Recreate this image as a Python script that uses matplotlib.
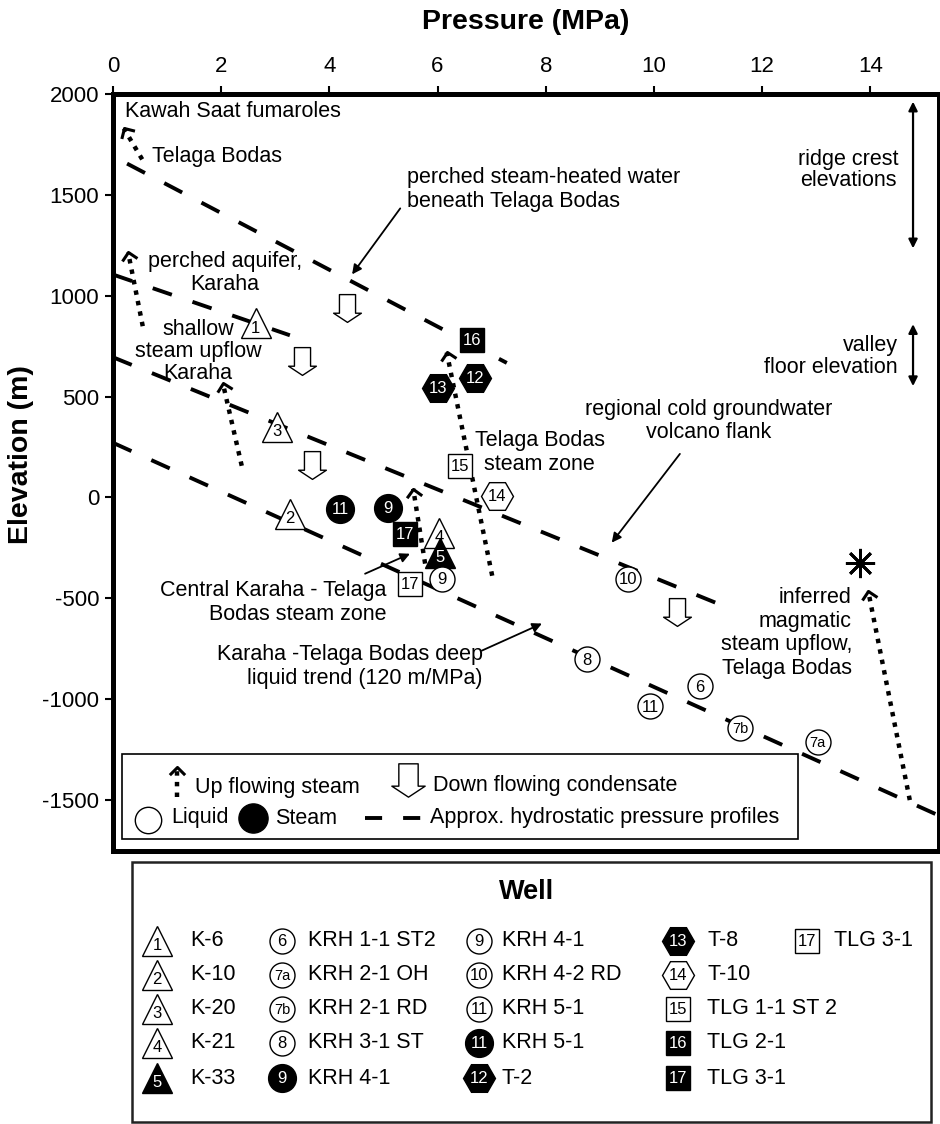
import numpy as np
import matplotlib
matplotlib.use('Agg')
import matplotlib.pyplot as plt
from matplotlib.path import Path
from matplotlib.markers import MarkerStyle
from matplotlib.patches import Rectangle

plt.rcParams['font.family'] = ['Liberation Sans', 'DejaVu Sans']
plt.rcParams['axes.unicode_minus'] = False

# approx. hydrostatic pressure profiles (MPa, m)
hydro_p = [[0.26, 7.28], [0.0, 3.27], [0.0, 11.50], [0.0, 15.27]]
hydro_e = [[1655, 667], [1105, 804], [695, -561], [271, -1577]]

# up flowing steam (bottom of dotted path -> apex)
up_bot_p = [0.54, 0.55, 2.38, 7.01, 5.77, 14.73]
up_bot_e = [1676, 849, 157, -388, -328, -1500]
up_top_p = [0.20, 0.28, 2.03, 6.17, 5.55, 13.96]
up_top_e = [1829, 1215, 567, 719, 43, -462]

# down flowing condensate
down_p = [4.33, 3.49, 3.68, 10.43]
down_e = [938, 676, 161, -566]

# wells plotted
well_code = ['1', '3', '2', '11', '9', '17', '4', '5', '17', '9', '15', '14', '16', '12', '13',
             '10', '8', '6', '11', '7b', '7a']
well_shape = ['^', '^', '^', 'o', 'o', 's', '^', '^', 's', 'o', 's', 'H', 's', 'H', 'H',
              'o', 'o', 'o', 'o', 'o', 'o']
well_fill = [0, 0, 0, 1, 1, 1, 0, 1, 0, 0, 0, 0, 1, 1, 1, 0, 0, 0, 0, 0, 0]
well_p = [2.64, 3.03, 3.27, 4.20, 5.08, 5.40, 6.03, 6.04, 5.49, 6.08, 6.41, 7.10, 6.64, 6.69, 6.01,
          9.52, 8.76, 10.85, 9.93, 11.59, 13.03]
well_e = [864, 350, -81, -56, -51, -180, -175, -274, -427, -402, 157, 8, 780, 592, 543,
          -402, -803, -937, -1036, -1145, -1214]

star_p, star_e = 13.81, -324

# well legend
leg_code = ['1', '2', '3', '4', '5', '6', '7a', '7b', '8', '9', '9', '10', '11', '11', '12',
            '13', '14', '15', '16', '17', '17']
leg_name = ['K-6', 'K-10', 'K-20', 'K-21', 'K-33', 'KRH 1-1 ST2', 'KRH 2-1 OH', 'KRH 2-1 RD',
            'KRH 3-1 ST', 'KRH 4-1', 'KRH 4-1', 'KRH 4-2 RD', 'KRH 5-1', 'KRH 5-1', 'T-2',
            'T-8', 'T-10', 'TLG 1-1 ST 2', 'TLG 2-1', 'TLG 3-1', 'TLG 3-1']
leg_shape = ['^'] * 5 + ['o'] * 5 + ['o'] * 4 + ['H'] + ['H', 'H', 's', 's', 's'] + ['s']
leg_fill = [0, 0, 0, 0, 1, 0, 0, 0, 0, 1, 0, 0, 0, 1, 1, 1, 0, 0, 1, 1, 0]

chevron = Path([(-1, -1), (0, 0), (1, -1)])
down_arrow = Path([(-0.29, 0.5), (0.29, 0.5), (0.29, -0.17), (0.5, -0.17), (0, -0.5),
                   (-0.5, -0.17), (-0.29, -0.17), (-0.29, 0.5)], closed=True)


def draw_well(a, x, y, code, shape, filled):
    size = {'^': 21, 'o': 18, 's': 17, 'H': 23}[shape]
    if shape == 'o' and filled:
        size = 20
    a.plot(x, y, marker=shape, ms=size, mfc='black' if filled else 'white', mec='black',
           mew=1.0, ls='none', zorder=5, clip_on=False)
    dy = -3.5 if shape == '^' else -0.5
    fs = 10.5 if len(code) > 1 and code[-1] in 'ab' else 12
    a.annotate(code, (x, y), xytext=(0, dy), textcoords='offset points', ha='center',
               va='center', fontsize=fs, color='white' if filled else 'black', zorder=6)


fig = plt.figure(figsize=(9.4, 11.24), dpi=100)
ax = fig.add_axes([113 / 940, 1 - 850.5 / 1124, 826 / 940, 756.5 / 1124])
ax.set_xlim(0, 15.27)
ax.set_ylim(-1750, 2000)

for p, e in zip(hydro_p, hydro_e):
    ax.plot(p, e, color='black', lw=2.8, dashes=(5.2, 5.6), zorder=2)

for bp, be, tp, te in zip(up_bot_p, up_bot_e, up_top_p, up_top_e):
    ax.plot([bp, tp], [be, te], color='black', lw=3.2, dashes=(1, 1.4), zorder=3)
    d0 = ax.transData.transform((bp, be))
    d1 = ax.transData.transform((tp, te))
    ang = np.degrees(np.arctan2(-(d1[0] - d0[0]), d1[1] - d0[1]))
    ax.plot(tp, te, marker=MarkerStyle(chevron).rotated(deg=ang), ms=11, mew=2.2,
            mfc='none', mec='black', ls='none', zorder=3)

ax.plot(down_p, down_e, marker=down_arrow, ms=20, mfc='white', mec='black', mew=1.0,
        ls='none', zorder=4)

for x, y, c, s, f in zip(well_p, well_e, well_code, well_shape, well_fill):
    draw_well(ax, x, y, c, s, f)

ax.plot(star_p, star_e, marker=(8, 2, 0), ms=21, mew=2, color='black', ls='none')

fs = 15.5
ax.text(0.22, 1913, 'Kawah Saat fumaroles', fontsize=fs, ha='left', va='center')
ax.text(0.72, 1691, 'Telaga Bodas', fontsize=fs, ha='left', va='center')
ax.text(5.43, 1525, 'perched steam-heated water\nbeneath Telaga Bodas', fontsize=fs,
        ha='left', va='center', linespacing=1.2)
ax.text(13.59, 1621, 'ridge crest\nelevations', fontsize=fs, ha='center', va='center',
        linespacing=1.0)
ax.text(14.51, 699, 'valley\nfloor elevation', fontsize=fs, ha='right', va='center',
        linespacing=1.1)
ax.text(2.07, 1112, 'perched aquifer,\nKaraha', fontsize=fs, ha='center', va='center',
        linespacing=1.15)
# three separate lines so the short first line sits clear of well 1
for line, e in zip(['shallow', 'steam upflow', 'Karaha'], [835, 724, 613]):
    ax.text(1.57, e, line, fontsize=fs, ha='center', va='center')
ax.text(11.02, 380, 'regional cold groundwater\nvolcano flank', fontsize=fs, ha='center',
        va='center', linespacing=1.15)
ax.text(7.89, 224, 'Telaga Bodas\nsteam zone', fontsize=fs, ha='center', va='center',
        linespacing=1.2)
ax.text(5.06, -519, 'Central Karaha - Telaga\nBodas steam zone', fontsize=fs, ha='right',
        va='center', linespacing=1.2)
ax.text(6.84, -838, 'Karaha -Telaga Bodas deep\nliquid trend (120 m/MPa)', fontsize=fs,
        ha='right', va='center', linespacing=1.15)
ax.text(13.66, -672, 'inferred\nmagmatic\nsteam upflow,\nTelaga Bodas', fontsize=fs,
        ha='right', va='center', linespacing=1.15)

arr = dict(arrowstyle='-|>', lw=1.3, color='black', mutation_scale=14, shrinkA=0, shrinkB=0)
ax.annotate('', xy=(4.42, 1106), xytext=(5.31, 1433), arrowprops=arr)
ax.annotate('', xy=(9.22, -224), xytext=(10.48, 216), arrowprops=arr)
ax.annotate('', xy=(5.49, -279), xytext=(4.66, -378), arrowprops=arr)
ax.annotate('', xy=(7.93, -625), xytext=(6.82, -759), arrowprops=arr)

dbl = dict(arrowstyle='<|-|>', lw=1.6, color='black', mutation_scale=13, shrinkA=0, shrinkB=0)
ax.annotate('', xy=(14.79, 1962), xytext=(14.79, 1235), arrowprops=dbl)
ax.annotate('', xy=(14.79, 859), xytext=(14.79, 552), arrowprops=dbl)

ax.set_xticks(range(0, 16, 2))
ax.set_yticks(range(-1500, 2001, 500))
ax.tick_params(axis='x', top=True, bottom=False, labeltop=True, labelbottom=False,
               direction='out', length=6, width=1.5, pad=6, labelsize=16)
ax.tick_params(axis='y', left=True, right=False, direction='out', length=6, width=1.5,
               pad=4, labelsize=16)
for sp in ax.spines.values():
    sp.set_linewidth(3.6)

fig.text(526 / 940, 1 - 22 / 1124, 'Pressure (MPa)', fontsize=20.5, fontweight='bold',
         ha='center', va='center')
fig.text(21 / 940, 1 - 455 / 1124, 'Elevation (m)', fontsize=20.5, fontweight='bold',
         rotation=90, ha='center', va='center')

# legends drawn in pixel coordinates on an overlay
lay = fig.add_axes([0, 0, 1, 1])
lay.set_xlim(0, 940)
lay.set_ylim(1124, 0)
lay.set_axis_off()

lay.add_patch(Rectangle((122, 754), 676, 85, fc='white', ec='black', lw=1.2, zorder=1))
lay.plot([177, 177], [797, 770], color='black', lw=3.2, dashes=(1, 1.4), zorder=2)
lay.plot(177, 767, marker=chevron, ms=11, mew=2.2, mfc='none', mec='black', ls='none', zorder=2)
lay.text(195, 788, 'Up flowing steam', fontsize=fs, ha='left', va='center')
lay.plot(408, 780, marker=down_arrow, ms=24, mfc='white', mec='black', mew=1.0, ls='none', zorder=2)
lay.text(433, 786, 'Down flowing condensate', fontsize=fs, ha='left', va='center')
lay.plot(148, 820, marker='o', ms=19, mfc='white', mec='black', mew=1.0, ls='none', zorder=2)
lay.text(171, 818, 'Liquid', fontsize=fs, ha='left', va='center')
lay.plot(253, 818, marker='o', ms=21, mfc='black', mec='black', ls='none', zorder=2)
lay.text(275, 818, 'Steam', fontsize=fs, ha='left', va='center')
lay.plot([365, 421], [818, 818], color='black', lw=2.8, dashes=(4.4, 5.4), zorder=2)
lay.text(430, 818, 'Approx. hydrostatic pressure profiles', fontsize=fs, ha='left', va='center')

lay.add_patch(Rectangle((132, 862), 799, 260, fill=False, ec='#222222', lw=1.8))
lay.text(527, 892, 'Well', fontsize=19.5, fontweight='bold', ha='center', va='center')
col_mx = [157, 282, 479, 678, 807]
col_tx = [190, 308, 502, 707, 834]
row_y = [941, 975, 1009, 1043, 1078]
for i, (c, n, s, f) in enumerate(zip(leg_code, leg_name, leg_shape, leg_fill)):
    col, row = i // 5, i % 5
    draw_well(lay, col_mx[col], row_y[row], c, s, f)
    lay.text(col_tx[col], row_y[row], n, fontsize=fs, ha='left', va='center')

fig.savefig('out.png', dpi=100)
